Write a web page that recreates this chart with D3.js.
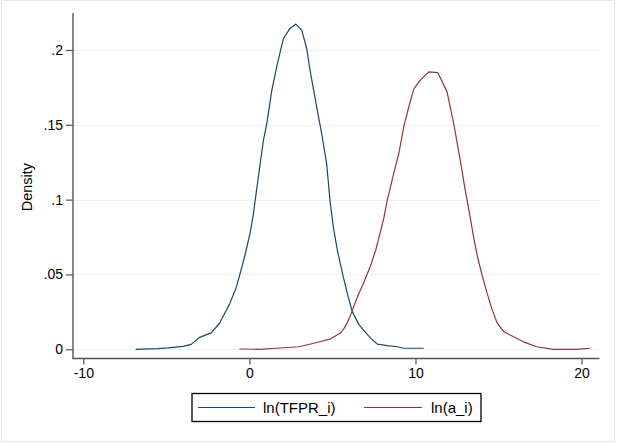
<!DOCTYPE html>
<html>
<head>
<meta charset="utf-8">
<script src="https://cdn.jsdelivr.net/npm/d3@7"></script>
<style>
  html, body { margin: 0; padding: 0; background: #ffffff; }
  svg { display: block; font-family: "Liberation Sans", Arial, sans-serif; }
</style>
</head>
<body>
<svg id="chart" width="618" height="444"></svg>
<script>
// Kernel density estimates of ln(TFPR_i) and ln(a_i)
const tfprX = [-6.85, -5.5, -4.9, -4.0, -3.5, -3.0, -2.3, -1.8, -1.2, -0.8, -0.45, -0.2, 0.05, 0.25, 0.35, 0.6, 0.85, 1.05, 1.35, 1.65, 2.05, 2.45, 2.8, 3.15, 3.45, 3.65, 4.05, 4.35, 4.65, 4.75, 4.85, 5.05, 5.3, 5.65, 5.95, 6.2, 6.6, 6.9, 7.3, 7.7, 8.3, 8.9, 9.3, 10.5];
const tfprY = [0, 0.0005, 0.001, 0.002, 0.0033, 0.008, 0.011, 0.0174, 0.030, 0.041, 0.055, 0.066, 0.078, 0.091, 0.0997, 0.12, 0.140, 0.151, 0.173, 0.189, 0.2077, 0.2144, 0.2173, 0.2133, 0.201, 0.1866, 0.162, 0.1443, 0.1242, 0.112, 0.0997, 0.082, 0.066, 0.0485, 0.035, 0.025, 0.0165, 0.0125, 0.0075, 0.0035, 0.0025, 0.0017, 0.0007, 0.0007];

const aX = [-0.6, 0.6, 1.6, 3.0, 4.0, 4.9, 5.5, 5.7, 5.9, 6.1, 6.3, 6.5, 6.9, 7.3, 7.6, 7.9, 8.1, 8.3, 8.4, 8.7, 9.0, 9.3, 9.6, 9.9, 10.3, 10.8, 11.35, 11.9, 12.3, 12.7, 13.0, 13.3, 13.5, 13.75, 14.0, 14.3, 14.6, 14.9, 15.3, 15.7, 16.5, 17.3, 18.3, 19.7, 20.5];
const aY = [0.0002, 0, 0.0007, 0.0017, 0.0044, 0.007, 0.011, 0.014, 0.018, 0.023, 0.029, 0.035, 0.045, 0.056, 0.066, 0.079, 0.088, 0.0997, 0.104, 0.118, 0.131, 0.149, 0.162, 0.174, 0.180, 0.1854, 0.1848, 0.172, 0.151, 0.126, 0.106, 0.088, 0.075, 0.061, 0.050, 0.038, 0.027, 0.018, 0.012, 0.0095, 0.005, 0.0017, 0, 0, 0.0007];

const seriesNames = ["ln(TFPR_i)", "ln(a_i)"];
const seriesColors = ["#1a476f", "#90353b"];

const xTicks = [-10, 0, 10, 20];
const xTickLabels = ["-10", "0", "10", "20"];
const yTicks = [0, 0.05, 0.1, 0.15, 0.2];
const yTickLabels = ["0", ".05", ".1", ".15", ".2"];
const yTitle = "Density";

const svg = d3.select("#chart");

// outer graph frame
svg.append("rect")
  .attr("x", 1.5).attr("y", 0.5)
  .attr("width", 613).attr("height", 441)
  .attr("fill", "#ffffff")
  .attr("stroke", "#e3ebed").attr("stroke-width", 1);

const plot = { left: 73, right: 599.5, top: 13, bottom: 358.5 };

const x = d3.scaleLinear()
  .domain([-10.62, 21.08])
  .range([plot.left, plot.right]);
const y = d3.scaleLinear()
  .domain([0, 0.2247])
  .range([349.3, plot.top]);

// horizontal grid
svg.append("g")
  .selectAll("line")
  .data(yTicks)
  .join("line")
  .attr("x1", plot.left).attr("x2", plot.right)
  .attr("y1", d => Math.round(y(d)) + 0.5).attr("y2", d => Math.round(y(d)) + 0.5)
  .attr("stroke", "#eaf2f3").attr("stroke-width", 1.2);

// density curves
const series = [
  { name: seriesNames[0], color: seriesColors[0], pts: tfprX.map((v, i) => [v, tfprY[i]]) },
  { name: seriesNames[1], color: seriesColors[1], pts: aX.map((v, i) => [v, aY[i]]) }
];
const line = d3.line().x(d => x(d[0])).y(d => y(d[1]));
svg.append("g")
  .selectAll("path")
  .data(series)
  .join("path")
  .attr("d", d => line(d.pts))
  .attr("fill", "none")
  .attr("stroke", d => d.color)
  .attr("stroke-width", 1.2)
  .attr("stroke-linejoin", "round");

// y axis
const yAxis = d3.axisLeft(y)
  .tickValues(yTicks)
  .tickFormat((d, i) => yTickLabels[i])
  .tickSize(7)
  .tickPadding(3)
  .tickSizeOuter(0);
const gy = svg.append("g")
  .attr("transform", `translate(${plot.left},0)`)
  .call(yAxis);
gy.select(".domain").remove();
gy.append("line")
  .attr("x1", 0).attr("x2", 0)
  .attr("y1", plot.top).attr("y2", plot.bottom)
  .attr("stroke", "#555555").attr("stroke-width", 1.4);
gy.selectAll(".tick line").attr("stroke", "#555555").attr("stroke-width", 1.2);
gy.selectAll(".tick text")
  .attr("fill", "#000000")
  .style("font-size", "14px");

// x axis
const xAxis = d3.axisBottom(x)
  .tickValues(xTicks)
  .tickFormat((d, i) => xTickLabels[i])
  .tickSize(6)
  .tickPadding(4)
  .tickSizeOuter(0);
const gx = svg.append("g")
  .attr("transform", `translate(0,${plot.bottom})`)
  .call(xAxis);
gx.select(".domain").remove();
gx.append("line")
  .attr("x1", plot.left - 0.7).attr("x2", plot.right)
  .attr("y1", 0).attr("y2", 0)
  .attr("stroke", "#555555").attr("stroke-width", 1.4);
gx.selectAll(".tick line").attr("stroke", "#555555").attr("stroke-width", 1.2);
gx.selectAll(".tick text")
  .attr("fill", "#000000")
  .style("font-size", "14px");

// y title
svg.append("text")
  .attr("transform", `translate(32,${(y(0) + plot.top) / 2 + 6}) rotate(-90)`)
  .attr("text-anchor", "middle")
  .style("font-size", "14.5px")
  .text(yTitle);

// legend
const lg = svg.append("g");
lg.append("rect")
  .attr("x", 192).attr("y", 393.5)
  .attr("width", 289).attr("height", 28)
  .attr("fill", "#ffffff")
  .attr("stroke", "#000000").attr("stroke-width", 1.3);
const legendItems = [
  { x1: 198, x2: 255, tx: 263 },
  { x1: 364, x2: 422, tx: 431 }
];
legendItems.forEach((it, i) => {
  lg.append("line")
    .attr("x1", it.x1).attr("x2", it.x2)
    .attr("y1", 407.5).attr("y2", 407.5)
    .attr("stroke", seriesColors[i]).attr("stroke-width", 1.2);
  lg.append("text")
    .attr("x", it.tx).attr("y", 407.5)
    .attr("dy", "0.35em")
    .style("font-size", "15px")
    .text(seriesNames[i]);
});
</script>
</body>
</html>
